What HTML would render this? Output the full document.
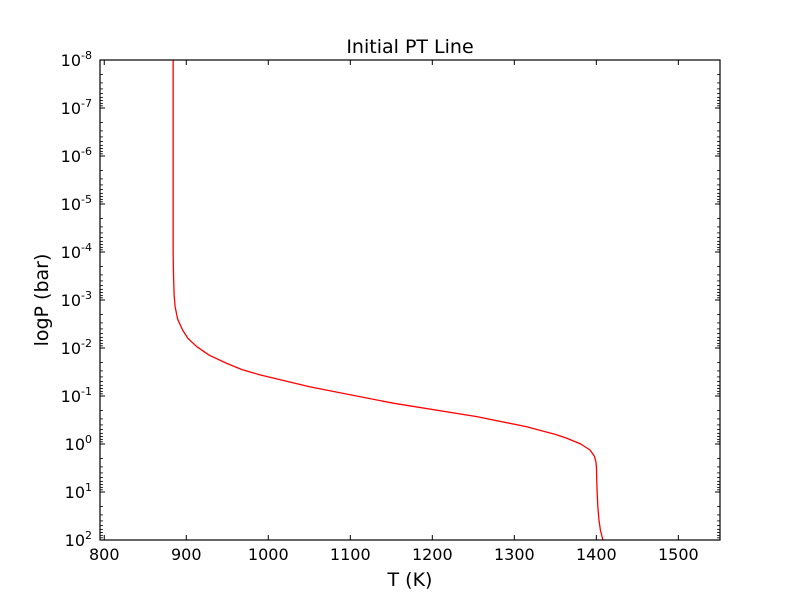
<!DOCTYPE html>
<html><head><meta charset="utf-8"><style>
html,body{margin:0;padding:0;background:#fff;}
svg text{font-family:"DejaVu Sans","Liberation Sans",sans-serif;}
</style></head><body>
<svg id="chart" width="800" height="600" xmlns="http://www.w3.org/2000/svg">
<rect width="800" height="600" fill="#fff"/>
<text x="410" y="53" font-size="19" text-anchor="middle">Initial PT Line</text>
<text x="410" y="586" font-size="19" text-anchor="middle">T (K)</text>
<text x="48" y="300" font-size="19" text-anchor="middle" transform="rotate(-90 48 300)">logP (bar)</text>
<g id="marks"></g>
<rect x="100" y="60" width="620" height="480" fill="none" stroke="#000" stroke-width="1.2"/>
</svg>
<script>
const xTicks = [800, 900, 1000, 1100, 1200, 1300, 1400, 1500];
const yTickExps = [-8, -7, -6, -5, -4, -3, -2, -1, 0, 1, 2];
const yTickLabels = ["-8","-7","-6","-5","-4","-3","-2","-1","0","1","2"];
const seriesLogP = [-8, -4, -3.7, -3.417, -3.1, -2.86, -2.6, -2.375, -2.2, -2.03, -1.85, -1.68, -1.55, -1.44, -1.19, -0.85, -0.57, -0.36, -0.3, -0.2, -0.12, 0.0, 0.125, 0.25, 0.37, 0.5, 0.75, 0.96, 1.3, 1.58, 1.8, 2];
const seriesT = [884, 884, 884.2, 884.6, 885.2, 886.4, 889.5, 895.5, 902, 912.7, 928, 949.3, 968, 989.9, 1050.9, 1152.4, 1254.1, 1315.1, 1328, 1350, 1364, 1381, 1392.3, 1397.5, 1399.5, 1400.2, 1400.5, 1400.9, 1401.8, 1403.2, 1405, 1408];

const X0=100,X1=720,Y0=60,Y1=540;
const xMin=794.8,xMax=1550.8,yMin=-8,yMax=2;
function xs(v){return X0+(v-xMin)/(xMax-xMin)*(X1-X0);}
function ys(e){return Y0+(e-yMin)/(yMax-yMin)*(Y1-Y0);}
const NS="http://www.w3.org/2000/svg";
const g=document.getElementById('marks');
function mk(tag,attrs,parent){const el=document.createElementNS(NS,tag);for(const k in attrs)el.setAttribute(k,attrs[k]);(parent||g).appendChild(el);return el;}

xTicks.forEach(v=>{
  const x=xs(v);
  const t=mk('line',{x1:x,y1:Y1,x2:x,y2:Y1-5,stroke:'#000'});
  
  
  const t2=mk('line',{x1:x,y1:Y0,x2:x,y2:Y0+5,stroke:'#000'});
  
  
  const lb=mk('text',{x:x,y:Y1+20,'font-size':16,'text-anchor':'middle'});
  lb.textContent=String(v);
  
  
});
yTickExps.forEach((e,i)=>{
  const y=ys(e);
  [[X0,X0+5],[X1,X1-5]].forEach(p=>{
    const t=mk('line',{x1:p[0],y1:y,x2:p[1],y2:y,stroke:'#000'});
    
    
  });
  if(i<yTickExps.length-1){
    for(let m=2;m<=9;m++){
      const ym=ys(e+Math.log10(m));
      [[X0,X0+3],[X1,X1-3]].forEach(p=>{
        const t=mk('line',{x1:p[0],y1:ym,x2:p[1],y2:ym,stroke:'#000','stroke-width':0.8});
        
        
      });
    }
  }
  const lb=mk('text',{x:X0-8,y:y+6,'font-size':16,'text-anchor':'end'});
  
  
  const b=document.createElementNS(NS,'tspan');b.textContent='10';lb.appendChild(b);
  const s=document.createElementNS(NS,'tspan');s.setAttribute('dy','-7');s.setAttribute('font-size','11');s.textContent=yTickLabels[i];lb.appendChild(s);
});
let d='';
seriesT.forEach((t,i)=>{d+=(i?'L':'M')+xs(t).toFixed(2)+','+ys(seriesLogP[i]).toFixed(2);});
const line=mk('path',{d:d,fill:'none',stroke:'#ff0000','stroke-width':1.3,'stroke-linejoin':'round'});


</script>
</body></html>
